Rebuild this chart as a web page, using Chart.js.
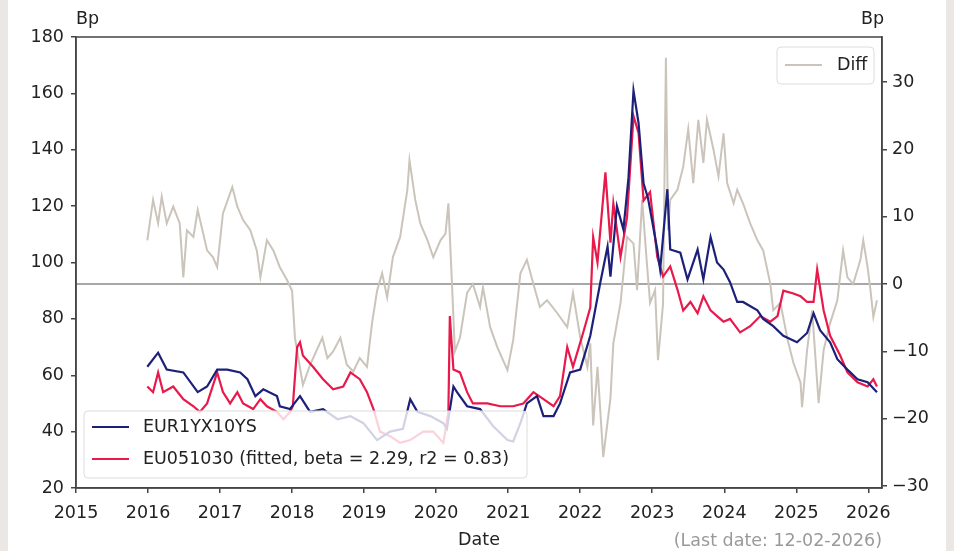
<!DOCTYPE html>
<html>
  <head>
    <title>EUR1YX10YS vs EU051030</title>
    <script src="https://cdn.jsdelivr.net/npm/chart.js@4.4.1/dist/chart.umd.min.js"></script>
    <style>
      html, body { margin: 0; padding: 0; background: #ebe7e5; }
      #panel { position: absolute; left: 8px; top: 0; width: 938px; height: 551px; background: #fff; }
      #myChart { position: absolute; left: 0; top: 0; }
    </style>
  </head>
  <body>
    <div id="panel"></div>
    <canvas id="myChart" width="954" height="551"></canvas>
    <script>
      // dates are decimal years, values in Bp
      const navyT = [2015.99, 2016.14, 2016.26, 2016.49, 2016.69, 2016.82, 2016.96, 2017.10, 2017.28, 2017.38,
        2017.49, 2017.60, 2017.79, 2017.83, 2017.97, 2018.11, 2018.25, 2018.43, 2018.63, 2018.81,
        2018.99, 2019.18, 2019.36, 2019.54, 2019.64, 2019.74, 2019.92, 2020.10, 2020.15, 2020.24,
        2020.29, 2020.43, 2020.61, 2020.79, 2020.99, 2021.07, 2021.17, 2021.26, 2021.40, 2021.49,
        2021.63, 2021.72, 2021.86, 2022.00, 2022.14, 2022.28, 2022.38, 2022.42, 2022.51, 2022.60,
        2022.67, 2022.74, 2022.81, 2022.88, 2022.94, 2023.07, 2023.11, 2023.21, 2023.25, 2023.39,
        2023.49, 2023.63, 2023.71, 2023.81, 2023.90, 2023.99, 2024.08, 2024.18, 2024.26, 2024.46,
        2024.54, 2024.68, 2024.82, 2025.01, 2025.15, 2025.24, 2025.33, 2025.47, 2025.57, 2025.71,
        2025.85, 2025.99, 2026.12];
      const navyV = [63, 68, 62, 61, 54, 56, 62, 62, 61, 58.6,
        52.6, 55, 52.6, 49, 48, 52.6, 47, 48, 44.4, 45.5,
        43, 37, 40, 41, 51.5, 47, 45.5, 43, 41, 56,
        54, 49, 48, 42, 37, 36.5, 43, 50, 52.6, 45.5,
        45.5, 50, 61, 62, 74, 93, 105.7, 95, 120, 111.7,
        130, 161, 149.5, 128, 123, 104.6, 97.5, 126, 104.6, 103.5,
        94, 104.6, 94, 109, 100, 97.5, 93, 86, 86, 83,
        80, 77.4, 74, 71.7, 75, 82, 76, 71.7, 65.7, 62,
        58.6, 57.5, 54];

      const redT = [2015.99, 2016.07, 2016.14, 2016.21, 2016.35, 2016.49, 2016.63, 2016.72, 2016.82, 2016.96,
        2017.04, 2017.14, 2017.24, 2017.32, 2017.46, 2017.56, 2017.65, 2017.79, 2017.88, 2017.97,
        2018.01, 2018.07, 2018.11, 2018.15, 2018.29, 2018.43, 2018.57, 2018.71, 2018.81, 2018.94,
        2019.04, 2019.13, 2019.22, 2019.36, 2019.50, 2019.64, 2019.82, 2019.96, 2020.10, 2020.17,
        2020.19, 2020.24, 2020.33, 2020.43, 2020.51, 2020.71, 2020.89, 2021.07, 2021.21, 2021.35,
        2021.49, 2021.63, 2021.72, 2021.82, 2021.90, 2022.04, 2022.14, 2022.18, 2022.24, 2022.35,
        2022.42, 2022.46, 2022.56, 2022.65, 2022.74, 2022.81, 2022.88, 2022.97, 2023.07, 2023.15,
        2023.25, 2023.35, 2023.43, 2023.53, 2023.63, 2023.71, 2023.81, 2023.90, 2023.99, 2024.08,
        2024.22, 2024.36, 2024.50, 2024.64, 2024.74, 2024.82, 2024.96, 2025.06, 2025.15, 2025.24,
        2025.29, 2025.38, 2025.47, 2025.61, 2025.71, 2025.85, 2025.99, 2026.07, 2026.12];
      const redV = [56, 54, 61, 54, 56, 51.5, 49, 47, 50, 61,
        54, 50, 54, 50, 48, 51.5, 49, 47, 44.4, 47,
        49, 70, 71.7, 67, 63, 58.6, 55, 56, 61, 58.6,
        54, 48, 40, 38.4, 36, 37, 40, 40, 36, 47,
        81, 62, 61, 54, 50, 50, 49, 49, 50, 54,
        51.5, 49, 52.6, 70, 63, 75, 84, 109, 100, 132,
        107, 121, 102, 116, 152, 146, 122, 125, 102, 95,
        98.6, 90.4, 83, 86, 82, 88, 83, 81, 79, 80,
        75.2, 77.4, 81, 79, 81, 90, 89, 88, 86, 86,
        97.5, 83, 74, 67, 61, 57.5, 56, 58.6, 56];

      const diffT = [2015.99, 2016.07, 2016.14, 2016.19, 2016.26, 2016.35, 2016.44, 2016.49, 2016.54, 2016.63,
        2016.69, 2016.82, 2016.90, 2016.96, 2017.04, 2017.17, 2017.24, 2017.32, 2017.42, 2017.51,
        2017.56, 2017.65, 2017.74, 2017.83, 2017.93, 2018.00, 2018.04, 2018.15, 2018.25, 2018.42,
        2018.49, 2018.57, 2018.67, 2018.76, 2018.85, 2018.94, 2019.04, 2019.11, 2019.18, 2019.25,
        2019.32, 2019.40, 2019.50, 2019.60, 2019.63, 2019.71, 2019.78, 2019.88, 2019.96, 2020.06,
        2020.13, 2020.17, 2020.22, 2020.26, 2020.33, 2020.43, 2020.51, 2020.61, 2020.65, 2020.75,
        2020.85, 2020.99, 2021.07, 2021.17, 2021.26, 2021.35, 2021.44, 2021.54, 2021.68, 2021.82,
        2021.90, 2022.00, 2022.10, 2022.14, 2022.18, 2022.24, 2022.32, 2022.42, 2022.46, 2022.56,
        2022.65, 2022.74, 2022.79, 2022.86, 2022.93, 2022.97, 2023.04, 2023.08, 2023.15, 2023.19,
        2023.22, 2023.25, 2023.35, 2023.43, 2023.50, 2023.57, 2023.64, 2023.71, 2023.76, 2023.85,
        2023.92, 2023.99, 2024.04, 2024.13, 2024.18, 2024.26, 2024.36, 2024.46, 2024.54, 2024.60,
        2024.64, 2024.68, 2024.78, 2024.88, 2024.96, 2025.06, 2025.08, 2025.15, 2025.22, 2025.31,
        2025.38, 2025.47, 2025.57, 2025.65, 2025.71, 2025.79, 2025.89, 2025.93, 2025.99, 2026.03,
        2026.07, 2026.12];
      const diffV = [6.5, 12.5, 9, 13, 9, 11.5, 9, 1, 8, 7,
        11, 5, 4, 2.5, 10.5, 14.4, 11.5, 9.5, 8, 5,
        1, 6.5, 5, 2.5, 0.6, -1, -8, -15, -12, -8,
        -11, -10, -8, -12, -13, -11, -12.3, -5.8, -1, 1.6,
        -2, 4, 7, 14, 18.4, 12.5, 9, 6.5, 4, 6.5,
        7.5, 12, 0, -10, -8, -1.3, 0, -3.4, -0.5, -6.4,
        -9.4, -12.8, -8.3, 1.6, 3.6, 0, -3.4, -2.4, -4.3, -6.4,
        -1.3, -7.9, -12.3, -8.8, -21, -12.3, -25.7, -17, -8.8, -2.8,
        7, 6, -0.9, 12.5, 2.5, -2.8, -0.9, -11.3, -3, 33.6,
        8, 12.5, 14, 17.4, 23, 15, 24.4, 18, 24.4, 20,
        16, 22.4, 15, 12, 14, 12, 9, 6.5, 5, 2,
        0, -3.9, -2.8, -8.3, -11.7, -14.7, -18.3, -9.8, -3.9, -17.7,
        -9.8, -5.8, -2.4, 5, 1, 0, 3.6, 6.5, 2.5, -0.9,
        -4.9, -2.4];

      const xTicks = [2015, 2016, 2017, 2018, 2019, 2020, 2021, 2022, 2023, 2024, 2025, 2026];
      const yTicks = [20, 40, 60, 80, 100, 120, 140, 160, 180];
      const y2Ticks = [-30, -20, -10, 0, 10, 20, 30];

      const seriesNames = ["EUR1YX10YS", "EU051030 (fitted, beta = 2.29, r2 = 0.83)", "Diff"];
      const lastDate = "12-02-2026";

      const FONT = '"DejaVu Sans", sans-serif';
      const NAVY = "#1c2079";
      const RED = "#e8194b";
      const TAN = "#cbc4bb";
      const AXIS = "#444";

      const toPts = (t, v) => t.map((x, i) => ({ x: x, y: v[i] }));
      const fixTicks = (arr) => (s) => { s.ticks = arr.map((v) => ({ value: v })); };

      function legendBox(ctx, x, y, w, h, items) {
        ctx.save();
        ctx.fillStyle = "rgba(255,255,255,0.8)";
        ctx.strokeStyle = "#dcdcdc";
        ctx.lineWidth = 1;
        ctx.beginPath();
        ctx.roundRect(x, y, w, h, 4);
        ctx.fill();
        ctx.stroke();
        ctx.font = "17.5px " + FONT;
        ctx.textBaseline = "middle";
        ctx.textAlign = "left";
        items.forEach((it) => {
          ctx.strokeStyle = it.color;
          ctx.lineWidth = it.width;
          ctx.beginPath();
          ctx.moveTo(it.x1, it.y);
          ctx.lineTo(it.x2, it.y);
          ctx.stroke();
          ctx.fillStyle = "#222";
          ctx.fillText(it.label, it.tx, it.y);
        });
        ctx.restore();
      }

      const decor = {
        id: "decor",
        beforeDatasetsDraw(chart) {
          const ctx = chart.ctx;
          const a = chart.chartArea;
          const y0 = chart.scales.y2.getPixelForValue(0);
          ctx.save();
          ctx.strokeStyle = "#8a8a8a";
          ctx.lineWidth = 1.5;
          ctx.beginPath();
          ctx.moveTo(a.left, y0);
          ctx.lineTo(a.right, y0);
          ctx.stroke();
          ctx.restore();
        },
        afterDatasetsDraw(chart) {
          const ctx = chart.ctx;
          const a = chart.chartArea;
          ctx.save();
          ctx.strokeStyle = AXIS;
          ctx.lineWidth = 1.5;
          ctx.strokeRect(a.left, a.top, a.right - a.left, a.bottom - a.top);
          ctx.restore();

          legendBox(ctx, 84, 411, 443, 67, [
            { color: NAVY, width: 2, x1: 92, x2: 129, y: 427, tx: 143, label: seriesNames[0] },
            { color: RED, width: 2, x1: 92, x2: 129, y: 459, tx: 143, label: seriesNames[1] },
          ]);
          legendBox(ctx, 777, 47, 97, 37, [
            { color: TAN, width: 1.8, x1: 785, x2: 822, y: 65, tx: 837, label: seriesNames[2] },
          ]);
        },
        afterDraw(chart) {
          const ctx = chart.ctx;
          const a = chart.chartArea;
          ctx.save();
          ctx.font = "17.5px " + FONT;
          ctx.fillStyle = "#222";
          ctx.textBaseline = "middle";
          ctx.textAlign = "left";
          ctx.fillText("Bp", a.left, 19);
          ctx.textAlign = "right";
          ctx.fillText("Bp", a.right + 2, 19);
          ctx.textAlign = "center";
          ctx.fillText("Date", (a.left + a.right) / 2, 540);
          ctx.textAlign = "right";
          ctx.fillStyle = "#9a9a9a";
          ctx.fillText("(Last date: " + lastDate + ")", a.right, 541);
          ctx.restore();
        },
      };

      const tickFont = { family: FONT, size: 17.5 };

      new Chart(document.getElementById("myChart"), {
        type: "line",
        data: {
          datasets: [
            {
              label: seriesNames[0],
              data: toPts(navyT, navyV),
              yAxisID: "y",
              borderColor: NAVY,
              borderWidth: 2.2,
              pointRadius: 0,
              order: 1,
            },
            {
              label: seriesNames[1],
              data: toPts(redT, redV),
              yAxisID: "y",
              borderColor: RED,
              borderWidth: 2.2,
              pointRadius: 0,
              order: 2,
            },
            {
              label: seriesNames[2],
              data: toPts(diffT, diffV),
              yAxisID: "y2",
              borderColor: TAN,
              borderWidth: 2,
              pointRadius: 0,
              order: 3,
            },
          ],
        },
        options: {
          responsive: false,
          animation: false,
          layout: { padding: { top: 37, bottom: 23, left: 0, right: 0 } },
          plugins: { legend: { display: false }, tooltip: { enabled: false } },
          scales: {
            x: {
              type: "linear",
              position: "bottom",
              min: 2015,
              max: 2026.19,
              afterBuildTicks: fixTicks(xTicks),
              afterFit: (s) => { s.height = 40; },
              ticks: { font: tickFont, color: "#222", padding: 10, maxRotation: 0, autoSkip: false, callback: (v) => String(v) },
              grid: { drawOnChartArea: false, drawTicks: true, tickLength: 5, color: AXIS, lineWidth: 1.5 },
              border: { color: AXIS, width: 1.5 },
            },
            y: {
              position: "left",
              min: 20,
              max: 180,
              afterBuildTicks: fixTicks(yTicks),
              afterFit: (s) => { s.width = 76; },
              ticks: { font: tickFont, color: "#222", padding: 7 },
              grid: { drawOnChartArea: false, drawTicks: true, tickLength: 5, color: AXIS, lineWidth: 1.5 },
              border: { color: AXIS, width: 1.5 },
            },
            y2: {
              position: "right",
              min: -30.3,
              max: 36.7,
              afterBuildTicks: fixTicks(y2Ticks),
              afterFit: (s) => { s.width = 72; },
              ticks: {
                font: tickFont,
                color: "#222",
                padding: 5,
                callback: (v) => (v < 0 ? "\u2212" + Math.abs(v) : String(v)),
              },
              grid: { drawOnChartArea: false, drawTicks: true, tickLength: 5, color: AXIS, lineWidth: 1.5 },
              border: { color: AXIS, width: 1.5 },
            },
          },
        },
        plugins: [decor],
      });
    </script>
  </body>
</html>
